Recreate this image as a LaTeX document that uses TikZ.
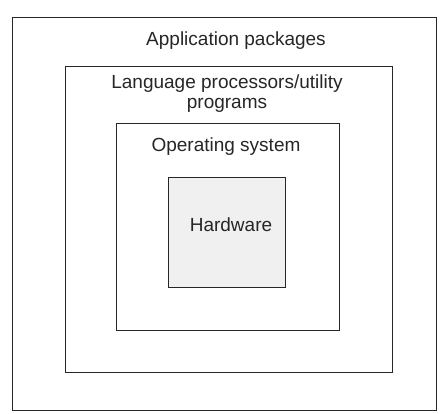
\documentclass[tikz,border=0pt]{standalone}
\usepackage{fontspec}
\setmainfont{Liberation Sans}
\usetikzlibrary{positioning}

\begin{document}
\begin{tikzpicture}[
    x=1pt,y=-1pt,
    layer/.style={rectangle,draw=black!85,line width=0.9pt,inner sep=0pt},
    label/.style={font=\fontsize{19}{20}\selectfont,text=black!85,align=center,inner sep=0pt}
]
    \useasboundingbox (0,0) rectangle (444,414);

    % nested layers, outside in
    \node[layer,minimum width=424pt,minimum height=393pt] (app) at (224,213.5) {};
    \node[layer,minimum width=327pt,minimum height=306pt] (lang) at (228.5,219) {};
    \node[layer,minimum width=223pt,minimum height=207pt] (os) at (227.5,226.5) {};
    \node[layer,fill=black!6,minimum width=117pt,minimum height=110pt] (hw) at (226.5,232) {};

    \node[label] (apptext) at (236,41) {Application packages};
    \node[label] (langtext) at (227,94) {Language processors/utility\\programs};
    \node[label] (ostext) at (226,147) {Operating system};
    \node[label] (hwtext) at (231,225) {Hardware};
\end{tikzpicture}
\end{document}
